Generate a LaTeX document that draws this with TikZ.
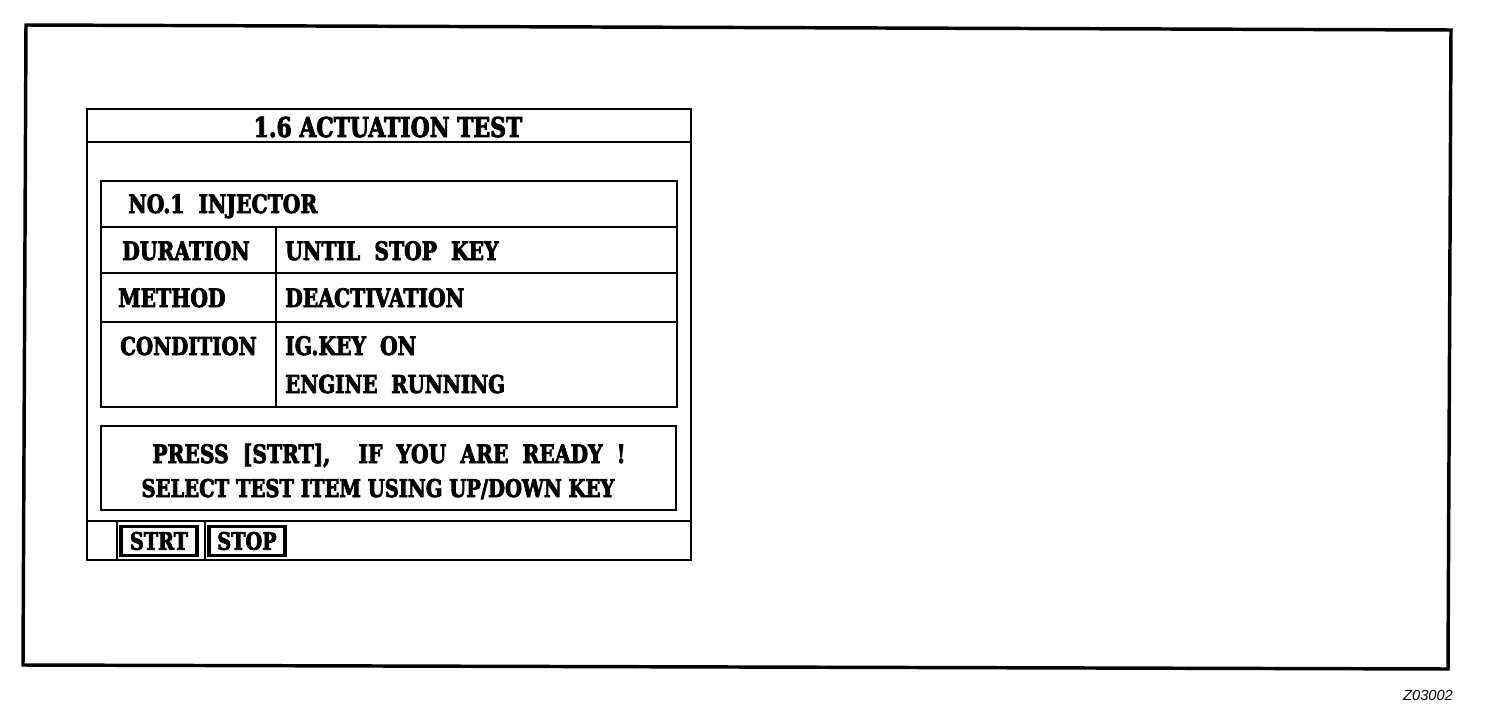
\documentclass[tikz,border=0pt]{standalone}
\usepackage{fontspec}
\setmainfont{DejaVu Serif}[FakeStretch=0.8,BoldFeatures={FakeBold=3}]
\newfontfamily\tagfont{Liberation Sans}
\begin{document}
\begin{tikzpicture}[x=0.75pt,y=-0.75pt,
  frame/.style={line width=2.6pt},
  win/.style={line width=2.2pt},
  thin/.style={line width=1.2pt},
  lbl/.style={anchor=base west,inner sep=0pt,font=\bfseries\fontsize{19}{22}\selectfont},
  clbl/.style={anchor=base,inner sep=0pt,font=\bfseries\fontsize{19}{22}\selectfont},
  btn/.style={draw,line width=2.4pt,minimum width=57pt,minimum height=22pt,inner sep=0pt,font=\bfseries\fontsize{18}{20}\selectfont}]
\useasboundingbox (0,0) rectangle (1504,710);
% outer frame
\draw[frame] (26,25) -- (1451,30) -- (1448,669) -- (23,665) -- cycle;
% window
\draw[win] (87,109) rectangle (691,560);
\draw[win] (87,142) -- (691,142);
\draw[win] (87,521) -- (691,521);
\node[clbl,font=\bfseries\fontsize{20.5}{22}\selectfont] (title) at (388,137) {1.6 ACTUATION TEST};
% table
\draw[win] (101,181) rectangle (677,407);
\draw[win] (101,227) -- (677,227);
\draw[win] (101,273) -- (677,273);
\draw[win] (101,322) -- (677,322);
\draw[win] (276,227) -- (276,407);
\node[lbl] (item) at (128,213) {NO.1\ \ INJECTOR};
\node[lbl] (dur) at (122,260) {DURATION};
\node[lbl] (durv) at (285,260) {UNTIL\ \ STOP\ \ KEY};
\node[lbl] (meth) at (118,307) {METHOD};
\node[lbl] (methv) at (285,307) {DEACTIVATION};
\node[lbl,font=\bfseries\fontsize{18.5}{22}\selectfont] (cond) at (120,355) {CONDITION};
\node[lbl] (condv1) at (285,355) {IG.KEY\ \ ON};
\node[lbl,font=\bfseries\fontsize{18.5}{22}\selectfont] (condv2) at (285,393) {ENGINE\ \ RUNNING};
% message box
\draw[win] (101,426) rectangle (676,510);
\node[clbl] (msg1) at (389,463) {PRESS\ \ [STRT],\ \ \ \ IF\ \ YOU\ \ ARE\ \ READY\ \ !};
\node[clbl,font=\bfseries\fontsize{18.3}{22}\selectfont] (msg2) at (378,497) {SELECT TEST ITEM USING UP/DOWN KEY};
% buttons
\draw[thin] (117,521) -- (117,560);
\draw[thin] (205,521) -- (205,560);
\node[btn] (strt) at (159,541) {STRT};
\node[btn] (stop) at (247,541) {STOP};
% tag
\node[inner sep=0pt,font=\tagfont\itshape\fontsize{11}{12}\selectfont] (tag) at (1428,695) {Z03002};
\end{tikzpicture}
\end{document}
